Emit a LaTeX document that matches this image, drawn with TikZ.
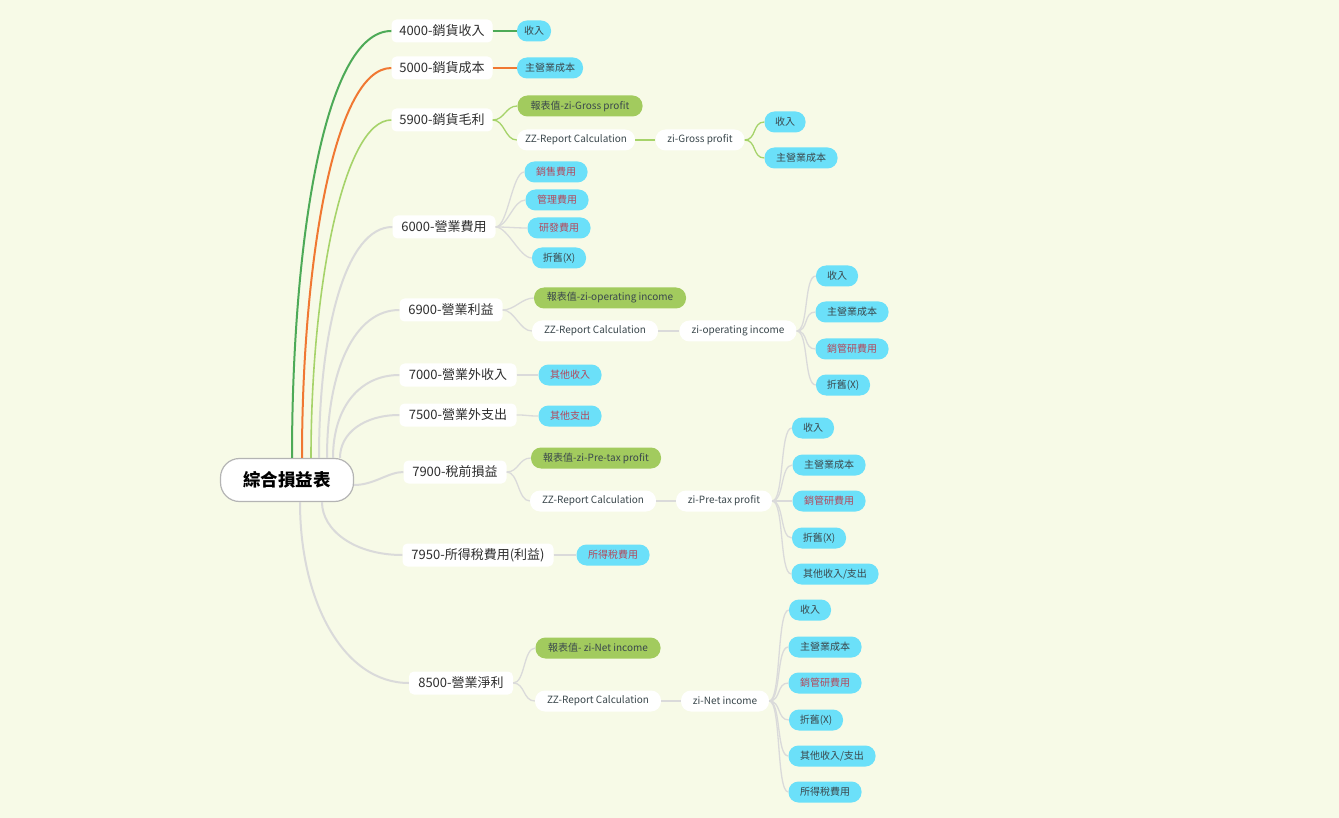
\documentclass[tikz,border=0pt]{standalone}
\usepackage{fontspec}
\setmainfont{Noto Sans CJK TC}
\usetikzlibrary{calc}
\definecolor{bg}{HTML}{F7FAE7}
\definecolor{rootborder}{HTML}{B4B4B4}
\definecolor{txt}{HTML}{2E2E2E}
\definecolor{dk}{HTML}{3A474C}
\definecolor{redtxt}{HTML}{B3475B}
\definecolor{cyanbox}{HTML}{6BE0F9}
\definecolor{greenbox}{HTML}{A2CB5E}
\definecolor{lnggreen}{HTML}{4DAA57}
\definecolor{lnorange}{HTML}{F07832}
\definecolor{lnlight}{HTML}{A6D36A}
\definecolor{lngray}{HTML}{DADADA}
\newcommand\mylink[3][]{\draw[#1] (#2.east) .. controls +(12,0) and +(-12,0) .. (#3.west);}
\begin{document}
\begin{tikzpicture}[x=1pt,y=-1pt,
  rootbox/.style={draw=rootborder, line width=1.2pt, fill=white, rounded corners=19pt, minimum width=133pt, minimum height=43pt, inner sep=0pt, font=\fontsize{17.5}{20}\selectfont\bfseries, text=black},
  lone/.style={fill=white, rounded corners=5pt, minimum height=23pt, inner sep=0pt, font=\fontsize{13}{15}\selectfont, text=txt},
  ltwo/.style={rounded corners=10pt, minimum height=21pt, inner sep=0pt, font=\fontsize{10}{12}\selectfont, text=dk},
  cy/.style={ltwo, fill=cyanbox},
  gr/.style={ltwo, fill=greenbox},
  wh/.style={ltwo, fill=white},
  rd/.style={text=redtxt},
  mw/.style={minimum width=#1},
  rgreen/.style={draw=lnggreen, line width=2pt},
  rorange/.style={draw=lnorange, line width=2pt},
  rlight/.style={draw=lnlight, line width=1.6pt},
  rgray/.style={draw=lngray, line width=2pt},
  sgreen/.style={draw=lnggreen, line width=1.3pt},
  sorange/.style={draw=lnorange, line width=1.3pt},
  slight/.style={draw=lnlight, line width=1.3pt},
  sgray/.style={draw=lngray, line width=1.3pt}
]
\fill[bg] (0,0) rectangle (1339,818);
\useasboundingbox (0,0) rectangle (1339,818);

% root
\node[rootbox] (root) at (287,480) {綜合損益表};

% level 1
\node[lone, mw=101] (a1) at (442,31) {4000-銷貨收入};
\node[lone, mw=101] (a2) at (442,68) {5000-銷貨成本};
\node[lone, mw=101] (a3) at (442,120) {5900-銷貨毛利};
\node[lone, mw=103] (a4) at (444,227) {6000-營業費用};
\node[lone, mw=103] (a5) at (451,310) {6900-營業利益};
\node[lone, mw=117] (a6) at (458,375) {7000-營業外收入};
\node[lone, mw=117] (a7) at (458,415) {7500-營業外支出};
\node[lone, mw=103] (a8) at (455,472) {7900-稅前損益};
\node[lone, mw=151] (a9) at (478,555) {7950-所得稅費用(利益)};
\node[lone, mw=104] (a10) at (461,683) {8500-營業淨利};

% start points on root
\coordinate (s1) at ([xshift=5]root.north);
\coordinate (s2) at ([xshift=15]root.north);
\coordinate (s3) at ([xshift=24]root.north);
\coordinate (s4) at ([xshift=32]root.north);
\coordinate (s5) at ([xshift=40]root.north);
\coordinate (s6) at ([xshift=46]root.north);
\coordinate (s7) at ([xshift=53]root.north);
\coordinate (s8) at ([yshift=-5]root.east);
\coordinate (s9) at ([xshift=35]root.south);
\coordinate (s10) at ([xshift=13]root.south);

\draw[rgreen] (s1) .. controls +(0,-210) and +(-68,0) .. (a1.west);
\draw[rorange] (s2) .. controls +(0,-190) and +(-58,0) .. (a2.west);
\draw[rlight] (s3) .. controls +(0,-170) and +(-48,0) .. (a3.west);
\draw[rgray] (s4) .. controls +(0,-130) and +(-46,0) .. (a4.west);
\draw[rgray] (s5) .. controls +(0,-90) and +(-44,0) .. (a5.west);
\draw[rgray] (s6) .. controls +(0,-50) and +(-40,0) .. (a6.west);
\draw[rgray] (s7) .. controls +(0,-25) and +(-35,0) .. (a7.west);
\draw[rgray] (s8) .. controls +(20,0) and +(-15,0) .. (a8.west);
\draw[rgray] (s9) .. controls +(0,28) and +(-48,0) .. (a9.west);
\draw[rgray] (s10) .. controls +(0,100) and +(-65,0) .. (a10.west);

% 4000
\node[cy, mw=34] (b1) at (534,31) {收入};
\mylink[sgreen]{a1}{b1}
% 5000
\node[cy, mw=66] (b2) at (550,68) {主營業成本};
\mylink[sorange]{a2}{b2}
% 5900
\node[gr, mw=125] (c1) at (580,106) {報表值-zi-Gross profit};
\node[wh, mw=118] (c2) at (576,140) {ZZ-Report Calculation};
\node[wh, mw=89] (c3) at (700,140) {zi-Gross profit};
\node[cy, mw=41] (c4) at (785,122) {收入};
\node[cy, mw=73] (c5) at (801,158) {主營業成本};
\mylink[slight]{a3}{c1}
\mylink[slight]{a3}{c2}
\mylink[slight]{c2}{c3}
\mylink[slight]{c3}{c4}
\mylink[slight]{c3}{c5}
% 6000
\node[cy, rd, mw=63] (d1) at (556,172) {銷售費用};
\node[cy, rd, mw=63] (d2) at (557,200) {管理費用};
\node[cy, rd, mw=63] (d3) at (559,228) {研發費用};
\node[cy, mw=54] (d4) at (559,258) {折舊(X)};
\mylink[sgray]{a4}{d1}
\mylink[sgray]{a4}{d2}
\mylink[sgray]{a4}{d3}
\mylink[sgray]{a4}{d4}
% 6900
\node[gr, mw=152] (e1) at (610,298) {報表值-zi-operating income};
\node[wh, mw=126] (e2) at (595,331) {ZZ-Report Calculation};
\node[wh, mw=117] (e3) at (738,331) {zi-operating income};
\node[cy, mw=42] (e4) at (837,276) {收入};
\node[cy, mw=73] (e5) at (852,312) {主營業成本};
\node[cy, rd, mw=73] (e6) at (852,349) {銷管研費用};
\node[cy, mw=54] (e7) at (843,385) {折舊(X)};
\mylink[sgray]{a5}{e1}
\mylink[sgray]{a5}{e2}
\mylink[sgray]{e2}{e3}
\mylink[sgray]{e3}{e4}
\mylink[sgray]{e3}{e5}
\mylink[sgray]{e3}{e6}
\mylink[sgray]{e3}{e7}
% 7000, 7500
\node[cy, rd, mw=63] (f1) at (570,375) {其他收入};
\node[cy, rd, mw=63] (g1) at (570,416) {其他支出};
\mylink[sgray]{a6}{f1}
\mylink[sgray]{a7}{g1}
% 7900
\node[gr, mw=130] (h1) at (596,458) {報表值-zi-Pre-tax profit};
\node[wh, mw=126] (h2) at (593,501) {ZZ-Report Calculation};
\node[wh, mw=96] (h3) at (724,501) {zi-Pre-tax profit};
\node[cy, mw=42] (h4) at (813,428) {收入};
\node[cy, mw=73] (h5) at (829,465) {主營業成本};
\node[cy, rd, mw=73] (h6) at (829,501) {銷管研費用};
\node[cy, mw=54] (h7) at (819,538) {折舊(X)};
\node[cy, mw=87] (h8) at (835,574) {其他收入/支出};
\mylink[sgray]{a8}{h1}
\mylink[sgray]{a8}{h2}
\mylink[sgray]{h2}{h3}
\mylink[sgray]{h3}{h4}
\mylink[sgray]{h3}{h5}
\mylink[sgray]{h3}{h6}
\mylink[sgray]{h3}{h7}
\mylink[sgray]{h3}{h8}
% 7950
\node[cy, rd, mw=73] (i1) at (613,555) {所得稅費用};
\mylink[sgray]{a9}{i1}
% 8500
\node[gr, mw=125] (j1) at (598,648) {報表值- zi-Net income};
\node[wh, mw=126] (j2) at (598,701) {ZZ-Report Calculation};
\node[wh, mw=88] (j3) at (725,701) {zi-Net income};
\node[cy, mw=42] (j4) at (810,610) {收入};
\node[cy, mw=73] (j5) at (825,647) {主營業成本};
\node[cy, rd, mw=73] (j6) at (825,683) {銷管研費用};
\node[cy, mw=54] (j7) at (816,720) {折舊(X)};
\node[cy, mw=87] (j8) at (832,756) {其他收入/支出};
\node[cy, mw=73] (j9) at (825,792) {所得稅費用};
\mylink[sgray]{a10}{j1}
\mylink[sgray]{a10}{j2}
\mylink[sgray]{j2}{j3}
\mylink[sgray]{j3}{j4}
\mylink[sgray]{j3}{j5}
\mylink[sgray]{j3}{j6}
\mylink[sgray]{j3}{j7}
\mylink[sgray]{j3}{j8}
\mylink[sgray]{j3}{j9}
\end{tikzpicture}
\end{document}
